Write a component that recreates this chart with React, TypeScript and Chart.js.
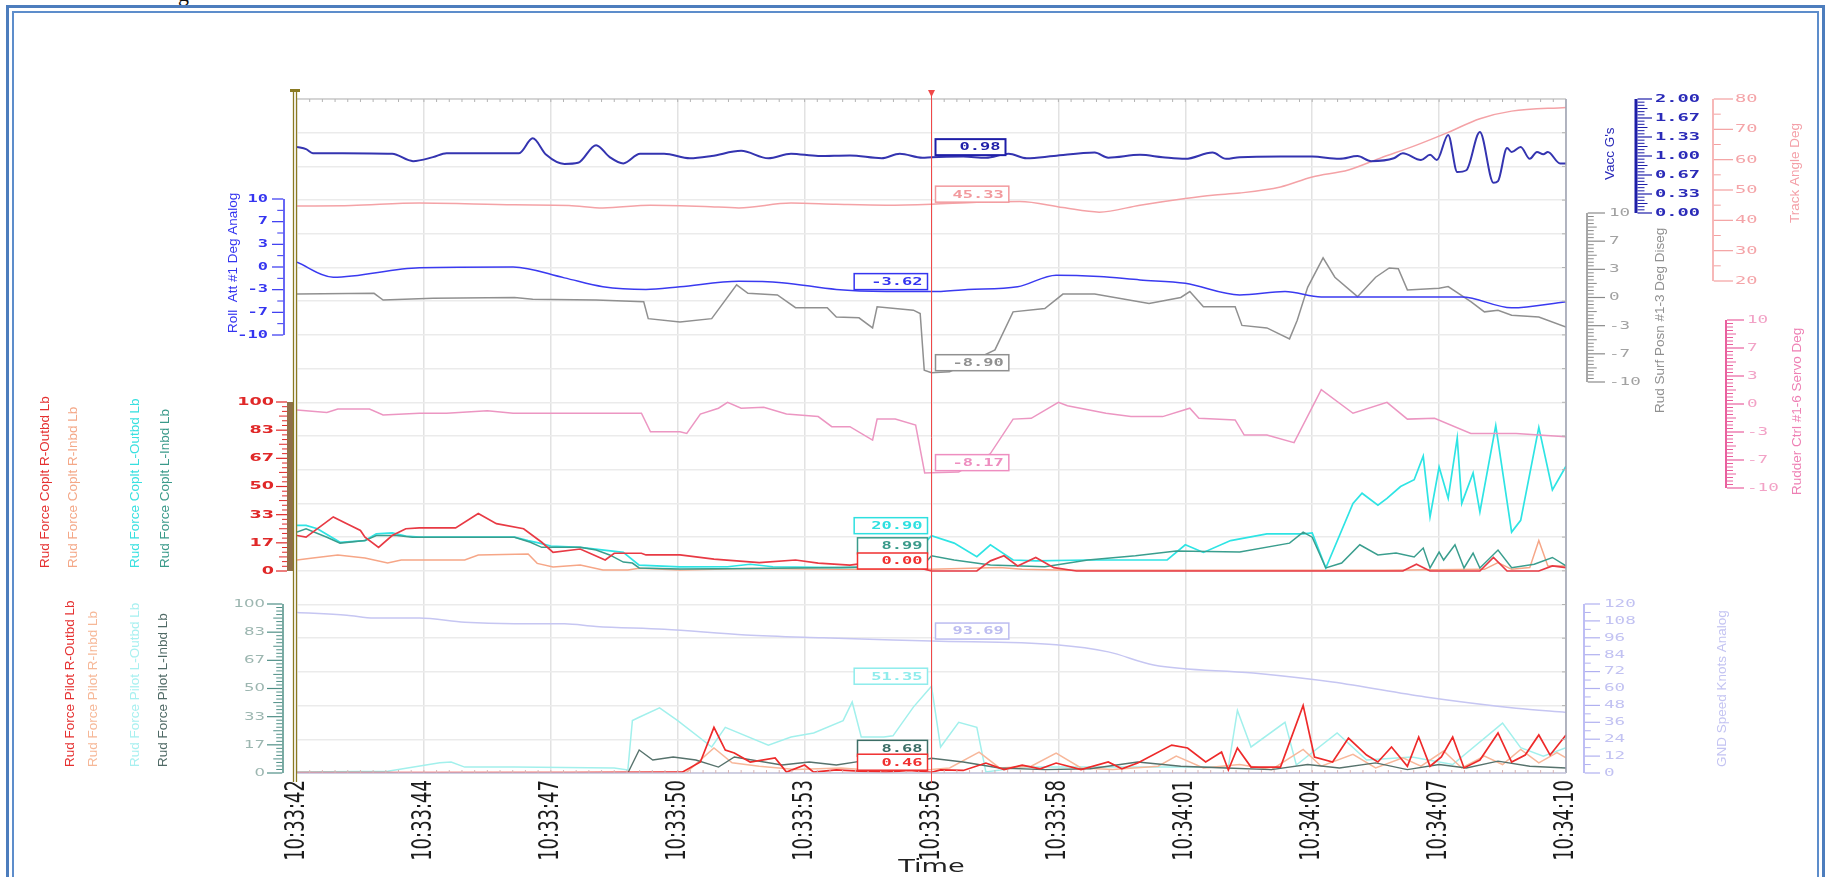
import React, { useEffect, useRef } from 'react';
import { Chart, registerables } from 'chart.js';

Chart.register(...registerables);

const CANVAS_W = 1827;
const CANVAS_H = 877;
const PLOT_LEFT = 297;
const PLOT_RIGHT = 1566;
const PLOT_TOP = 99;
const PLOT_BOTTOM = 773;

// Time axis: seconds after 10:33:42
const timeTickLabels = ['10:33:42', '10:33:44', '10:33:47', '10:33:50', '10:33:53', '10:33:56', '10:33:58', '10:34:01', '10:34:04', '10:34:07', '10:34:10'];
const TIME_SPAN = 28;
const CURSOR_T = 14;

// Axis tick labels
const vaccTicks = ['2.00', '1.67', '1.33', '1.00', '0.67', '0.33', '0.00'];
const trackTicks = ['80', '70', '60', '50', '40', '30', '20'];
const degTicks = ['10', '7', '3', '0', '-3', '-7', '-10'];
const forceTicks = ['100', '83', '67', '50', '33', '17', '0'];
const speedTicks = ['120', '108', '96', '84', '72', '60', '48', '36', '24', '12', '0'];

// Vacc G's
const vaccT = [0, 0.2, 0.35, 1.0, 2.1, 2.56, 3.0, 3.3, 4.9, 5.2,
  5.5, 5.9, 6.2, 6.6, 6.9, 7.2, 7.57, 8.1, 8.67, 9.15,
  9.8, 10.4, 10.9, 11.5, 12.2, 12.9, 13.3, 13.8, 14.0, 14.7,
  15.2, 15.7, 16.1, 16.7, 17.6, 17.9, 18.6, 19.1, 19.6, 20.2,
  20.5, 20.8, 21.7, 22.4, 23.0, 23.4, 23.7, 24.2, 24.4, 24.8,
  25.0, 25.15, 25.4, 25.6, 25.8, 26.1, 26.4, 26.5, 26.7, 26.8,
  27.0, 27.2, 27.36, 27.5, 27.6, 27.87, 28];
const vaccV = [1.16, 1.12, 1.05, 1.05, 1.04, 0.91, 0.98, 1.05, 1.05, 1.31,
  1.02, 0.86, 0.88, 1.19, 0.98, 0.87, 1.04, 1.04, 0.96, 1.0,
  1.09, 0.96, 1.04, 1.0, 1.01, 0.96, 1.04, 0.97, 0.98, 0.99,
  0.97, 1.04, 0.96, 1.0, 1.06, 0.97, 1.02, 0.98, 0.95, 1.06,
  0.95, 0.98, 0.99, 0.99, 0.95, 1.0, 0.91, 0.96, 1.05, 0.93,
  1.02, 0.93, 1.37, 0.72, 0.75, 1.42, 0.53, 0.56, 1.14, 1.07,
  1.16, 0.95, 1.07, 1.03, 1.07, 0.87, 0.87];

// Track Angle Deg
const trackT = [0, 1.2, 2.7, 4.8, 6.0, 6.75, 7.8, 9.0, 9.75, 10.9,
  11.9, 13.0, 14.0, 15.0, 15.95, 16.9, 17.7, 18.6, 19.6, 20.2,
  20.8, 21.7, 22.4, 23.2, 23.9, 24.7, 25.4, 26.1, 26.8, 28];
const trackV = [44.7, 44.9, 45.7, 45.1, 44.9, 44.1, 45.0, 44.6, 44.1, 45.7,
  45.3, 45.0, 45.33, 46.0, 46.2, 44.2, 42.7, 45.0, 47.2, 48.3,
  49.0, 51.0, 54.3, 56.6, 60.5, 64.8, 69.0, 73.5, 76.0, 77.2];

// Roll Att #1 Deg
const rollT = [0, 0.8, 2.7, 4.77, 5.9, 6.75, 7.7, 8.45, 9.75, 10.7,
  11.9, 13.0, 14.0, 14.8, 15.9, 16.75, 17.7, 18.6, 19.6, 20.8,
  21.8, 22.6, 24.0, 25.7, 26.8, 28];
const rollV = [0.7, -1.5, -0.1, 0.0, -1.6, -2.9, -3.3, -2.9, -2.1, -2.3,
  -3.3, -3.6, -3.62, -3.3, -2.9, -1.2, -1.4, -1.9, -2.4, -4.1,
  -3.6, -4.4, -4.4, -4.4, -6.0, -5.1];

// Rud Surf Posn #1-3 Deg
const surfT = [0, 1.7, 1.9, 3.0, 4.8, 5.2, 6.6, 7.65, 7.75, 8.45,
  9.15, 9.7, 9.95, 10.6, 11.0, 11.7, 11.9, 12.4, 12.7, 12.8,
  13.6, 13.75, 13.84, 14.0, 14.4, 15.4, 15.8, 16.5, 16.9, 17.6,
  18.8, 19.5, 19.7, 20.0, 20.7, 20.85, 21.4, 21.9, 22.07, 22.3,
  22.64, 22.9, 23.4, 23.8, 24.1, 24.3, 24.5, 25.2, 25.4, 25.9,
  26.2, 26.5, 26.8, 27.4, 28];
const surfV = [0.4, 0.5, -0.3, -0.1, 0.0, -0.2, -0.3, -0.5, -2.5, -2.9,
  -2.5, 1.5, 0.5, 0.3, -1.2, -1.2, -2.3, -2.4, -3.6, -1.1,
  -1.5, -1.9, -8.6, -8.9, -8.8, -6.2, -1.7, -1.3, 0.4, 0.4,
  -0.7, 0.0, 0.7, -1.1, -1.1, -3.3, -3.6, -4.9, -2.7, 1.2,
  4.7, 2.4, 0.1, 2.4, 3.5, 3.4, 0.9, 1.1, 1.3, -0.5,
  -1.7, -1.5, -2.1, -2.3, -3.5];

// Rudder Ctrl #1-6 Servo Deg
const rudderT = [0, 0.66, 0.9, 1.6, 1.9, 2.7, 3.3, 4.2, 4.77, 7.6,
  7.8, 8.45, 8.6, 8.9, 9.3, 9.5, 9.8, 10.3, 10.8, 11.5,
  11.8, 12.2, 12.7, 12.8, 13.2, 13.65, 13.85, 14.0, 14.6, 15.3,
  15.8, 16.2, 16.8, 17.0, 17.85, 18.4, 19.1, 19.7, 19.9, 20.7,
  20.9, 21.4, 22.0, 22.6, 23.3, 24.05, 24.5, 25.1, 25.9, 26.9,
  28];
const rudderV = [-0.7, -1.0, -0.6, -0.6, -1.3, -1.1, -1.1, -0.8, -1.1, -1.1,
  -3.3, -3.3, -3.5, -1.2, -0.5, 0.2, -0.5, -0.4, -1.2, -1.5,
  -2.7, -2.7, -4.3, -1.8, -1.8, -2.5, -8.2, -8.17, -8.1, -5.9,
  -1.8, -1.7, 0.2, -0.2, -1.1, -1.5, -1.5, -0.5, -1.7, -1.9,
  -3.7, -3.7, -4.6, 1.7, -1.1, 0.2, -1.8, -1.7, -3.5, -3.5,
  -3.9];

// Rud Force Coplt R-Outbd Lb
const cROutT = [0, 0.2, 0.8, 1.1, 1.4, 1.5, 1.8, 2.1, 2.4, 2.7,
  3.5, 4.0, 4.4, 5.0, 5.4, 5.65, 6.25, 6.8, 7.0, 7.6,
  7.7, 8.45, 9.2, 10.2, 11.0, 11.5, 12.2, 12.8, 13.3, 13.7,
  14.0, 15.0, 15.3, 15.6, 15.9, 16.3, 16.7, 17.2, 24.4, 24.7,
  25.0, 26.1, 26.4, 26.7, 27.4, 27.7, 28];
const cROutV = [21, 20, 32, 28, 24, 20, 14, 21, 25, 25.5,
  25.5, 34, 28, 25, 17, 11, 13, 6.5, 10.5, 10.5,
  9.5, 9.5, 7, 5, 6.5, 4.7, 3.5, 5.5, 4, 2,
  0, 0, 6, 9, 3, 8, 2, 0, 0, 4,
  0, 0, 8, 0, 0, 3, 2];

// Rud Force Coplt R-Inbd Lb
const cRInT = [0, 0.35, 0.9, 1.5, 2.0, 2.3, 3.7, 4.0, 5.1, 5.3,
  5.65, 6.25, 6.75, 7.3, 7.55, 8.45, 10.0, 12.0, 14.0, 15.5,
  16.0, 17.0, 20.0, 24.0, 26.2, 26.5, 26.8, 27.2, 27.4, 27.6,
  28];
const cRInV = [6.5, 7.7, 9.5, 7.7, 4.7, 6.5, 6.5, 9.5, 10, 4.5,
  2.4, 3.5, 0.6, 0.6, 1.6, 0.6, 1.5, 1.0, 1.0, 2.0,
  1.0, 0.5, 0.5, 0.5, 1, 5, 1, 2, 18, 3,
  3];

// Rud Force Coplt L-Outbd Lb
const cLOutT = [0, 0.2, 0.45, 0.95, 1.5, 1.75, 2.1, 2.4, 2.7, 4.8,
  5.1, 5.35, 5.6, 6.25, 7.2, 7.55, 8.45, 9.5, 10.0, 10.5,
  12.0, 13.0, 13.6, 13.9, 14.0, 14.5, 15.0, 15.3, 15.8, 16.3,
  17.45, 19.2, 19.6, 20.0, 20.6, 21.4, 22.2, 22.4, 22.7, 23.3,
  23.5, 23.85, 24.05, 24.35, 24.65, 24.85, 25.0, 25.2, 25.4, 25.6,
  25.7, 25.95, 26.1, 26.45, 26.8, 27.0, 27.4, 27.7, 28];
const cLOutV = [27, 27, 25, 17, 18, 22, 22.5, 20.7, 20, 20,
  18, 16.5, 14.8, 14, 11, 3.5, 2.4, 2.5, 4, 2.5,
  2.0, 2.5, 3.0, 18, 20.9, 16.5, 8.5, 15.5, 6.5, 6,
  6.5, 6.5, 15.5, 11, 18, 22, 22, 22.5, 1.8, 40,
  46, 39, 43, 50, 54, 68, 32, 61.5, 43, 78.7,
  40, 58, 35, 86, 23, 30, 85, 48, 62];

// Rud Force Coplt L-Inbd Lb
const cLInT = [0, 0.2, 0.66, 0.95, 1.5, 1.75, 2.2, 2.55, 4.8, 5.15,
  5.4, 6.25, 6.6, 6.9, 7.2, 7.4, 7.55, 8.45, 10.0, 12.0,
  13.0, 13.8, 14.0, 14.5, 15.3, 16.5, 17.45, 18.5, 19.4, 20.8,
  21.9, 22.2, 22.4, 22.7, 23.05, 23.45, 23.85, 24.25, 24.65, 24.85,
  25.0, 25.2, 25.3, 25.55, 25.75, 25.95, 26.1, 26.5, 26.8, 27.3,
  27.7, 28];
const cLInV = [23, 25, 20, 16.5, 18, 21, 21, 20, 20, 17,
  14, 14, 12.4, 9.5, 5.3, 4.7, 1.8, 1.2, 1.5, 2.0,
  2.5, 3.0, 8.99, 6.5, 3.5, 2.5, 6.5, 9, 11.8, 11.2,
  16.5, 23, 20, 1.8, 4.7, 15.5, 9.5, 10.6, 8.3, 13.6,
  1.8, 11.2, 6.5, 15.5, 1.8, 10.6, 1.8, 12.4, 2.0, 4,
  8, 3];

// GND Speed Knots
const gndT = [0, 1.1, 1.7, 2.7, 3.7, 4.8, 5.9, 6.6, 8.1, 9.9,
  11.6, 14.0, 16.75, 17.9, 18.9, 21.1, 22.85, 24.9, 26.9, 28];
const gndV = [114, 112, 110, 110, 107, 106, 106, 104, 102, 98,
  96, 93.69, 91, 86, 76.7, 71, 64.6, 54, 46, 43];

// Rud Force Pilot R-Outbd Lb
const pROutT = [0, 3.0, 6.0, 8.5, 8.9, 9.2, 9.45, 9.65, 10.0, 10.55,
  10.8, 11.2, 11.4, 11.9, 12.5, 13.0, 13.5, 14.0, 14.2, 14.7,
  15.2, 15.6, 16.0, 16.4, 16.75, 17.3, 17.9, 18.2, 18.55, 19.3,
  19.65, 20.05, 20.4, 20.55, 20.75, 21.05, 21.7, 22.2, 22.45, 22.85,
  23.2, 23.6, 23.85, 24.15, 24.5, 24.75, 25.0, 25.25, 25.5, 25.75,
  26.1, 26.5, 26.8, 27.1, 27.4, 27.65, 28];
const pROutV = [0.3, 0.3, 0.3, 0.5, 6.5, 27, 13.6, 11.8, 6.5, 8.9,
  0.5, 4.7, 0.5, 1.8, 1.0, 0.5, 1.5, 0.46, 1.8, 1.5,
  5.9, 2.0, 4.7, 2.5, 5.9, 2.0, 6.5, 2.5, 5.9, 16.5,
  14.8, 6.5, 12.4, 1.8, 14.8, 3.5, 3.5, 40, 9.5, 6.5,
  20.7, 10.6, 6.5, 15.4, 4.0, 21.3, 4.0, 9.5, 21.3, 3.0,
  7.7, 23.7, 6.5, 10.6, 22.5, 10.6, 22.5];

// Rud Force Pilot R-Inbd Lb
const pRInT = [0, 8.6, 9.2, 9.6, 10.2, 11.0, 12.0, 13.0, 14.0, 14.4,
  15.05, 15.5, 16.2, 16.75, 17.3, 18.0, 19.0, 19.4, 20.0, 20.8,
  21.5, 22.2, 22.6, 23.3, 23.8, 24.4, 24.8, 25.3, 25.7, 26.2,
  26.6, 27.0, 27.4, 27.8, 28];
const pRInV = [0, 0.5, 14.8, 6, 4, 2, 3, 1, 2, 3,
  12.4, 3, 4, 11.8, 3, 2, 4, 10, 3, 5,
  2, 14, 4, 11, 3, 9, 4, 13, 3, 10,
  5, 14, 6, 12, 9];

// Rud Force Pilot L-Outbd Lb
const pLOutT = [0, 2.0, 3.15, 3.4, 3.7, 4.8, 7.0, 7.3, 7.4, 7.55,
  8.0, 8.4, 9.15, 9.45, 10.4, 10.9, 11.4, 12.05, 12.25, 12.45,
  12.95, 13.15, 13.6, 14.0, 14.2, 14.6, 15.0, 15.2, 16.0, 18.55,
  20.55, 20.75, 21.05, 21.8, 22.05, 22.95, 23.6, 24.6, 25.5, 26.6,
  27.0, 27.5, 28];
const pLOutV = [0.6, 1.0, 6, 6.5, 3.5, 3.5, 3, 1.8, 31, 33,
  38.5, 31, 15.4, 27, 16.5, 21.3, 23.7, 31, 42, 21.3,
  21.3, 22, 39, 51.35, 15.4, 30, 27, 0.6, 3.5, 3.5,
  3.5, 37, 15.4, 30, 4.7, 23.7, 7.7, 9.5, 5.0, 29.5,
  15, 10, 15];

// Rud Force Pilot L-Inbd Lb
const pLInT = [0, 7.3, 7.55, 7.85, 8.3, 8.8, 9.3, 9.65, 10.7, 11.3,
  11.9, 12.45, 13.0, 13.5, 14.0, 14.7, 15.5, 16.5, 17.5, 18.55,
  19.5, 20.5, 21.5, 22.3, 23.0, 23.8, 24.5, 25.2, 25.8, 26.5,
  27.2, 28];
const pLInV = [0, 0, 13.6, 7.7, 9.5, 7.7, 3.5, 9.5, 4.7, 6.5,
  4.7, 7, 5, 6, 8.68, 6.5, 3, 2, 2.5, 6.5,
  4, 3, 2, 5, 3, 6, 2, 5, 3, 7,
  4, 3];

// Vertical placement of each value axis on the canvas
const bands: any = {
  yVacc: { top: 2, bottom: 0, pxTop: 99, pxBottom: 213 },
  yTrack: { top: 80, bottom: 20, pxTop: 99, pxBottom: 281 },
  yRoll: { top: 10, bottom: -10, pxTop: 199, pxBottom: 335 },
  ySurf: { top: 10, bottom: -10, pxTop: 213, pxBottom: 382 },
  yRudder: { top: 10, bottom: -10, pxTop: 320, pxBottom: 488 },
  yCoplt: { top: 100, bottom: 0, pxTop: 402, pxBottom: 571 },
  yPilot: { top: 100, bottom: 0, pxTop: 604, pxBottom: 773 },
  yGnd: { top: 120, bottom: 0, pxTop: 604, pxBottom: 773 },
};

const seriesDefs: any[] = [
  { id: 'vacc', t: vaccT, v: vaccV, axis: 'yVacc', color: '#3434b0', width: 2, smooth: true, order: 1 },
  { id: 'track', t: trackT, v: trackV, axis: 'yTrack', color: '#f4a2a6', width: 1.5, smooth: true, order: 6 },
  { id: 'roll', t: rollT, v: rollV, axis: 'yRoll', color: '#3a3af0', width: 1.5, smooth: true, order: 2 },
  { id: 'surf', t: surfT, v: surfV, axis: 'ySurf', color: '#909090', width: 1.5, smooth: false, order: 3 },
  { id: 'rudder', t: rudderT, v: rudderV, axis: 'yRudder', color: '#ec96c2', width: 1.5, smooth: false, order: 5 },
  { id: 'cROut', t: cROutT, v: cROutV, axis: 'yCoplt', color: '#e83a44', width: 1.7, smooth: false, order: 4 },
  { id: 'cRIn', t: cRInT, v: cRInV, axis: 'yCoplt', color: '#f6a687', width: 1.5, smooth: false, order: 8 },
  { id: 'cLOut', t: cLOutT, v: cLOutV, axis: 'yCoplt', color: '#2ee4e4', width: 1.7, smooth: false, order: 6 },
  { id: 'cLIn', t: cLInT, v: cLInV, axis: 'yCoplt', color: '#3a9e8e', width: 1.5, smooth: false, order: 5 },
  { id: 'gnd', t: gndT, v: gndV, axis: 'yGnd', color: '#c6c6f2', width: 1.5, smooth: true, order: 10 },
  { id: 'pROut', t: pROutT, v: pROutV, axis: 'yPilot', color: '#ee2a2a', width: 1.7, smooth: false, order: 4 },
  { id: 'pRIn', t: pRInT, v: pRInV, axis: 'yPilot', color: '#f7b79a', width: 1.5, smooth: false, order: 8 },
  { id: 'pLOut', t: pLOutT, v: pLOutV, axis: 'yPilot', color: '#a2f0ec', width: 1.5, smooth: false, order: 9 },
  { id: 'pLIn', t: pLInT, v: pLInV, axis: 'yPilot', color: '#56726c', width: 1.4, smooth: false, order: 7 },
];

const axisStyles: any[] = [
  { band: 'yVacc', side: 'right', x: 1636, labels: vaccTicks, line: '#1e1ea8', lineWidth: 3, tick: '#1e1ea8', labelColor: '#2a2ab8', font: 'bold 11px "DejaVu Sans Mono"', sx: 1.7, major: 16, minor: 7, minorPer: 6, gap: 3 },
  { band: 'yTrack', side: 'right', x: 1713, labels: trackTicks, line: '#f4a0a0', lineWidth: 1.5, tick: '#f4a0a0', labelColor: '#f4a4a8', font: '11px "DejaVu Sans Mono"', sx: 1.7, major: 20, minor: 7, minorPer: 2, gap: 2 },
  { band: 'yRoll', side: 'left', x: 284, labels: degTicks, line: '#3535f0', lineWidth: 1.5, tick: '#3535f0', labelColor: '#3535f0', font: 'bold 10px "DejaVu Sans Mono"', sx: 1.7, major: 12, minor: 6, minorPer: 2, gap: 4 },
  { band: 'ySurf', side: 'right', x: 1587, labels: degTicks, line: '#8a8a8a', lineWidth: 1.5, tick: '#8a8a8a', labelColor: '#a2a2a2', font: '11px "DejaVu Sans Mono"', sx: 1.6, major: 18, minor: 6, minorPer: 8, gap: 4 },
  { band: 'yRudder', side: 'right', x: 1726, labels: degTicks, line: '#e9609e', lineWidth: 2, tick: '#e9609e', labelColor: '#f2a2c6', font: '11px "DejaVu Sans Mono"', sx: 1.6, major: 18, minor: 6, minorPer: 8, gap: 3 },
  { band: 'yCoplt', side: 'left', x: 290, labels: forceTicks, line: '#8e7049', lineWidth: 6, tick: '#e02828', labelColor: '#e02828', font: 'bold 11px "DejaVu Sans"', sx: 1.6, major: 14, minor: 5, minorPer: 6, gap: 2 },
  { band: 'yPilot', side: 'left', x: 283, labels: forceTicks, line: '#4f8f86', lineWidth: 1.5, tick: '#4f8f86', labelColor: '#9cb6b0', font: '11px "DejaVu Sans"', sx: 1.5, major: 16, minor: 6, minorPer: 8, gap: 2 },
  { band: 'yGnd', side: 'right', x: 1584, labels: speedTicks, line: '#a8a8f0', lineWidth: 1.5, tick: '#b0b0f0', labelColor: '#c2c2f2', font: '11px "DejaVu Sans Mono"', sx: 1.6, major: 16, minor: 6, minorPer: 2, gap: 4 },
];

const axisTitles: any[] = [
  { text: 'Roll  Att #1 Deg Analog', x: 233, y: 333, color: '#3535f0' },
  { text: "Vacc G's", x: 1610, y: 180, color: '#2a2ab8' },
  { text: 'Track Angle Deg', x: 1795, y: 223, color: '#f4a0a8' },
  { text: 'Rud Surf Posn #1-3 Deg Diseg', x: 1660, y: 413, color: '#909090' },
  { text: 'Rudder Ctrl #1-6 Servo Deg', x: 1797, y: 495, color: '#ee80b4' },
  { text: 'GND Speed Knots Analog', x: 1722, y: 767, color: '#c4c4f2' },
  { text: 'Rud Force Coplt R-Outbd Lb', x: 45, y: 568, color: '#e53030' },
  { text: 'Rud Force Coplt R-Inbd Lb', x: 73, y: 568, color: '#f4a888' },
  { text: 'Rud Force Coplt L-Outbd Lb', x: 135, y: 568, color: '#38e0e0' },
  { text: 'Rud Force Coplt L-Inbd Lb', x: 165, y: 568, color: '#3a9a8a' },
  { text: 'Rud Force Pilot R-Outbd Lb', x: 70, y: 767, color: '#e53030' },
  { text: 'Rud Force Pilot R-Inbd Lb', x: 93, y: 767, color: '#f6b898' },
  { text: 'Rud Force Pilot L-Outbd Lb', x: 135, y: 767, color: '#a8f0f0' },
  { text: 'Rud Force Pilot L-Inbd Lb', x: 163, y: 767, color: '#506a66' },
];

// Cursor readout boxes
const readouts: any[] = [
  { series: 'vacc', side: 'right', color: '#1e1ea8', lw: 2 },
  { series: 'track', side: 'right', color: '#f29a9e' },
  { series: 'roll', side: 'left', color: '#3535f0' },
  { series: 'surf', side: 'right', color: '#909090' },
  { series: 'rudder', side: 'right', color: '#ee8ec0' },
  { series: 'cLOut', side: 'left', color: '#2ee0e0' },
  { series: 'cLIn', side: 'left', color: '#3a9a8a' },
  { series: 'cROut', side: 'left', color: '#f03030' },
  { series: 'gnd', side: 'right', color: '#bcbcf0' },
  { series: 'pLOut', side: 'left', color: '#8eecec' },
  { series: 'pLIn', side: 'left', color: '#3c6e66' },
  { series: 'pROut', side: 'left', color: '#f03030' },
];

function tickTime(i: number) {
  return Math.round(i * TIME_SPAN * 10 / (timeTickLabels.length - 1)) / 10;
}

function bandRange(b: any) {
  const k = (b.top - b.bottom) / (b.pxBottom - b.pxTop);
  return { max: b.top + (b.pxTop - PLOT_TOP) * k, min: b.bottom - (PLOT_BOTTOM - b.pxBottom) * k };
}

function valueAt(t: number[], v: number[], q: number) {
  const i = t.indexOf(q);
  return i >= 0 ? v[i] : NaN;
}

function txt(ctx: any, s: string, x: number, y: number, o: any) {
  ctx.save();
  ctx.translate(x, y);
  ctx.scale(o.sx || 1, 1);
  if (o.rot) ctx.rotate(o.rot);
  ctx.font = o.font;
  ctx.fillStyle = o.color;
  ctx.textAlign = o.align || 'left';
  ctx.textBaseline = o.baseline || 'middle';
  ctx.fillText(s, 0, 0);
  ctx.restore();
}

function seg(ctx: any, x1: number, y1: number, x2: number, y2: number, color: string, w: number) {
  ctx.strokeStyle = color;
  ctx.lineWidth = w;
  ctx.beginPath();
  ctx.moveTo(x1, y1);
  ctx.lineTo(x2, y2);
  ctx.stroke();
}

function drawAxis(ctx: any, scale: any, a: any) {
  const b = bands[a.band];
  const dir = a.side === 'left' ? -1 : 1;
  const yTop = scale.getPixelForValue(b.top);
  const yBot = scale.getPixelForValue(b.bottom);
  seg(ctx, a.x, yTop, a.x, yBot, a.line, a.lineWidth);
  const n = a.labels.length;
  const step = (b.bottom - b.top) / (n - 1);
  const x0 = a.x + dir * (a.lineWidth / 2);
  for (let i = 0; i < n; i++) {
    const v = b.top + step * i;
    const y = scale.getPixelForValue(v);
    seg(ctx, x0, y, a.x + dir * a.major, y, a.tick, 1.2);
    txt(ctx, a.labels[i], a.x + dir * (a.major + a.gap), y, {
      font: a.font, color: a.labelColor, align: a.side === 'left' ? 'right' : 'left', sx: a.sx,
    });
    if (i < n - 1) {
      for (let j = 1; j < a.minorPer; j++) {
        const yy = scale.getPixelForValue(v + (step * j) / a.minorPer);
        const len = a.minorPer > 2 && j * 2 === a.minorPer ? a.minor + 3 : a.minor;
        seg(ctx, x0, yy, x0 + dir * len, yy, a.tick, 1);
      }
    }
  }
}

const decorPlugin = {
  id: 'decor',
  afterDraw(chart: any) {
    const { ctx, chartArea: area, scales } = chart;
    const xs = scales.x;
    ctx.save();

    // plot frame and edge ticks
    seg(ctx, area.left, area.top, area.right, area.top, '#cccccc', 1.5);
    seg(ctx, area.right, area.top, area.right, area.bottom, '#9ea2b2', 1.5);
    seg(ctx, area.left, area.bottom, area.right, area.bottom, '#c4c4dc', 1.5);
    for (let i = 1; i < 100; i++) {
      const x = area.left + ((area.right - area.left) * i) / 100;
      seg(ctx, x, area.top, x, area.top + 3, '#b4b4b4', 1);
      seg(ctx, x, area.bottom, x, area.bottom - 3, '#d8b4b4', 1);
    }
    const gy = scales.yGrid;
    for (let k = 1; k < 20; k++) {
      const y = gy.getPixelForValue(k);
      seg(ctx, area.right - 4, y, area.right, y, '#b4b4b4', 1);
    }

    // value axes
    axisStyles.forEach((a) => drawAxis(ctx, scales[a.band], a));

    // axis titles
    axisTitles.forEach((t) => {
      txt(ctx, t.text, t.x, t.y, { font: '13.5px "Liberation Sans"', color: t.color, rot: -Math.PI / 2, align: 'left' });
    });

    // time labels
    timeTickLabels.forEach((s, i) => {
      const x = xs.getPixelForValue(tickTime(i));
      txt(ctx, s, x, area.bottom + 7, { font: '18px "DejaVu Sans"', color: '#1c1c1c', align: 'right', rot: -Math.PI / 2, sx: 1.5 });
    });
    txt(ctx, 'Time', (area.left + area.right) / 2, 868, { font: '17px "DejaVu Sans"', color: '#222222', align: 'center', sx: 1.6 });

    // left marker line
    const lx = area.left;
    seg(ctx, lx - 3.5, 90, lx - 3.5, 782, '#8a7a22', 1.3);
    seg(ctx, lx - 0.5, 90, lx - 0.5, 782, '#8a7a22', 1.3);
    ctx.fillStyle = '#8a7a22';
    ctx.fillRect(lx - 7, 89, 10, 3);

    // time cursor
    const cx = xs.getPixelForValue(CURSOR_T);
    seg(ctx, cx, 92, cx, 783, '#f04848', 1);
    ctx.fillStyle = '#f04848';
    ctx.beginPath();
    ctx.moveTo(cx - 3.5, 90);
    ctx.lineTo(cx + 3.5, 90);
    ctx.lineTo(cx, 97);
    ctx.closePath();
    ctx.fill();

    // cursor readouts
    const font = 'bold 11px "DejaVu Sans Mono"';
    const sx = 1.55;
    readouts.forEach((r) => {
      const s = seriesDefs.find((d) => d.id === r.series);
      const val = valueAt(s.t, s.v, CURSOR_T);
      const y = scales[s.axis].getPixelForValue(val);
      const label = val.toFixed(2);
      ctx.font = font;
      const tw = ctx.measureText(label).width * sx;
      const w = Math.max(70, tw + 22);
      const h = 16;
      const bx = r.side === 'right' ? cx + 4 : cx - 4 - w;
      const by = y - 2 - h;
      ctx.fillStyle = '#ffffff';
      ctx.fillRect(bx, by, w, h);
      ctx.strokeStyle = r.color;
      ctx.lineWidth = r.lw || 1.5;
      ctx.strokeRect(bx, by, w, h);
      txt(ctx, label, bx + w - 5, by + h / 2 + 0.5, { font, color: r.color, align: 'right', sx });
    });

    ctx.restore();
  },
};

export default function App() {
  const canvasRef = useRef<HTMLCanvasElement>(null);

  useEffect(() => {
    const canvas = canvasRef.current;
    if (!canvas) return;

    const scales: any = {
      x: {
        type: 'linear',
        axis: 'x',
        min: 0,
        max: TIME_SPAN,
        position: 'bottom',
        afterBuildTicks: (s: any) => {
          s.ticks = timeTickLabels.map((_, i) => ({ value: tickTime(i) }));
        },
        afterFit: (s: any) => {
          s.height = CANVAS_H - PLOT_BOTTOM;
        },
        ticks: { display: false },
        grid: { color: '#e2e2e2', lineWidth: 1.5, drawTicks: false },
        border: { display: false },
      },
      yGrid: {
        type: 'linear',
        axis: 'y',
        position: 'left',
        min: 0,
        max: 20,
        afterBuildTicks: (s: any) => {
          const t: any[] = [];
          for (let k = 0; k <= 20; k++) t.push({ value: k });
          s.ticks = t;
        },
        afterFit: (s: any) => {
          s.width = 0;
        },
        ticks: { display: false },
        grid: { color: '#ebebeb', lineWidth: 1.5, drawTicks: false },
        border: { display: false },
      },
    };
    Object.keys(bands).forEach((id) => {
      const r = bandRange(bands[id]);
      scales[id] = { type: 'linear', axis: 'y', position: 'left', display: false, bounds: 'data', min: r.min, max: r.max };
    });

    const datasets = seriesDefs.map((s) => ({
      label: s.id,
      data: s.t.map((t: number, i: number) => ({ x: t, y: s.v[i] })),
      yAxisID: s.axis,
      xAxisID: 'x',
      borderColor: s.color,
      borderWidth: s.width,
      pointRadius: 0,
      fill: false,
      tension: 0,
      cubicInterpolationMode: s.smooth ? 'monotone' : 'default',
      order: s.order,
    }));

    const chart = new Chart(canvas, {
      type: 'line',
      data: { datasets },
      options: {
        responsive: false,
        animation: false,
        events: [],
        parsing: false,
        normalized: true,
        layout: { padding: { left: PLOT_LEFT, right: CANVAS_W - PLOT_RIGHT, top: PLOT_TOP, bottom: 0 } },
        plugins: { legend: { display: false }, tooltip: { enabled: false }, title: { display: false } },
        scales,
      } as any,
      plugins: [decorPlugin],
    });

    return () => chart.destroy();
  }, []);

  return (
    <div style={{ position: 'fixed', left: 0, top: 0, width: CANVAS_W, height: CANVAS_H, overflow: 'hidden', background: '#ffffff' }}>
      <div style={{ position: 'absolute', left: 178, top: -19, font: '22px "Liberation Serif"', color: '#111111' }}>g</div>
      <div style={{ position: 'absolute', left: 6, top: 5, width: 1819, height: 1000, border: '3px solid #4d7dbd', borderBottom: 'none', boxSizing: 'border-box' }} />
      <div style={{ position: 'absolute', left: 12, top: 11, width: 1807, height: 1000, border: '2px solid #5d8dcb', borderBottom: 'none', boxSizing: 'border-box' }} />
      <canvas ref={canvasRef} width={CANVAS_W} height={CANVAS_H} style={{ position: 'absolute', left: 0, top: 0 }} />
    </div>
  );
}
